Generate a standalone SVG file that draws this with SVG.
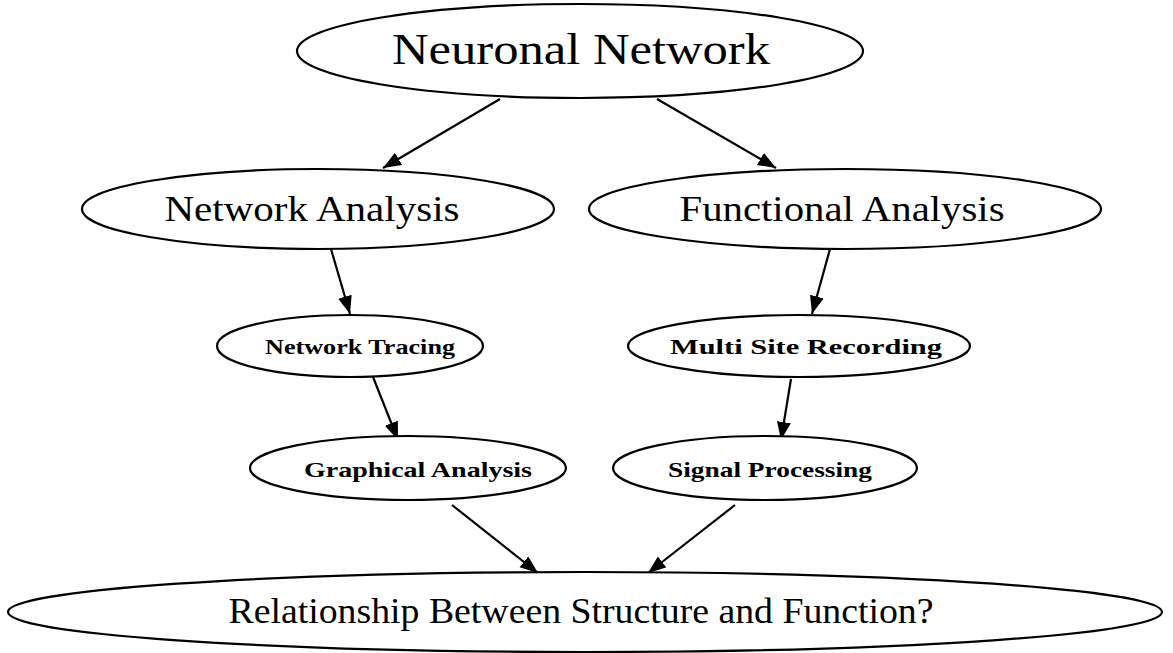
<svg xmlns="http://www.w3.org/2000/svg" width="1173" height="653" viewBox="0 0 1173 653">
<defs>
<style>
.node ellipse{fill:#fff;stroke:#000;stroke-width:2.2}
.node text{font-family:"Liberation Serif","Times New Roman",serif;fill:#000;text-anchor:middle}
.big{font-size:44px}
.mid{font-size:36px}
.small{font-size:22px;font-weight:bold}
.edges line{stroke:#000;stroke-width:2.2;marker-end:url(#ah)}
</style>
<marker id="ah" markerUnits="userSpaceOnUse" markerWidth="20" markerHeight="16" refX="18" refY="7" orient="auto">
<path d="M0,0 L18,7 L0,14 Z" fill="#000"/>
</marker>
</defs>
<rect width="1173" height="653" fill="#fff"/>
<g class="edges">
<line x1="500" y1="99" x2="383" y2="168"/>
<line x1="657" y1="99" x2="776" y2="168"/>
<line x1="331" y1="249" x2="350" y2="314"/>
<line x1="830" y1="249" x2="812" y2="314"/>
<line x1="373" y1="377" x2="398" y2="440"/>
<line x1="791" y1="379" x2="781" y2="440"/>
<line x1="452" y1="505" x2="538" y2="573"/>
<line x1="735" y1="505" x2="648" y2="573"/>
</g>
<g id="neuronal" class="node">
<ellipse cx="580" cy="51" rx="283" ry="47"/>
<text class="big" x="581" y="64" textLength="378" lengthAdjust="spacingAndGlyphs">Neuronal Network</text>
</g>
<g id="network-analysis" class="node">
<ellipse cx="318" cy="209" rx="236" ry="40"/>
<text class="mid" x="312" y="221" textLength="295" lengthAdjust="spacingAndGlyphs">Network Analysis</text>
</g>
<g id="functional-analysis" class="node">
<ellipse cx="845" cy="209" rx="256" ry="40"/>
<text class="mid" x="842" y="221" textLength="325" lengthAdjust="spacingAndGlyphs">Functional Analysis</text>
</g>
<g id="network-tracing" class="node">
<ellipse cx="350" cy="346" rx="133" ry="31"/>
<text class="small" x="360" y="354" textLength="190" lengthAdjust="spacingAndGlyphs">Network Tracing</text>
</g>
<g id="multi-site" class="node">
<ellipse cx="799" cy="346" rx="171" ry="31"/>
<text class="small" x="806" y="354" textLength="272" lengthAdjust="spacingAndGlyphs">Multi Site Recording</text>
</g>
<g id="graphical" class="node">
<ellipse cx="408" cy="468" rx="158" ry="32"/>
<text class="small" x="418" y="477" textLength="228" lengthAdjust="spacingAndGlyphs">Graphical Analysis</text>
</g>
<g id="signal" class="node">
<ellipse cx="765" cy="468" rx="152" ry="32"/>
<text class="small" x="770" y="477" textLength="204" lengthAdjust="spacingAndGlyphs">Signal Processing</text>
</g>
<g id="relationship" class="node">
<ellipse cx="585" cy="612" rx="577" ry="40"/>
<text class="mid" x="581" y="623" textLength="705" lengthAdjust="spacingAndGlyphs">Relationship Between Structure and Function?</text>
</g>
</svg>
